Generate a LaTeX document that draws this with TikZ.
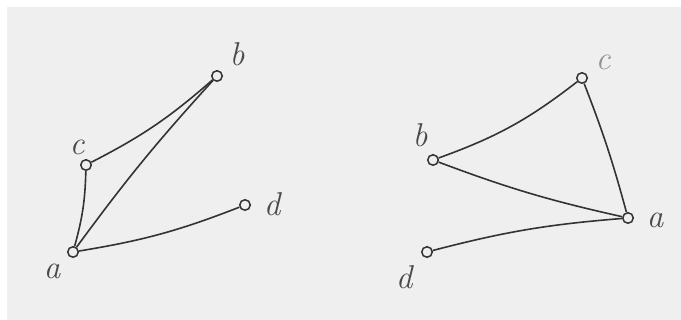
\documentclass[tikz,border=0pt]{standalone}
\usepackage{xcolor}
\definecolor{bg}{HTML}{EFEFEF}
\definecolor{ink}{HTML}{333333}
\definecolor{txt}{HTML}{4A4A4A}
\begin{document}
\begin{tikzpicture}[x=1pt,y=-1pt,
  vtx/.style={circle,draw=ink,line width=1.5pt,fill=bg,minimum size=10.5pt,inner sep=0pt},
  edge/.style={draw=ink,line width=1.6pt},
  lbl/.style={inner sep=0pt,text=txt,font=\fontsize{33}{33}\selectfont\itshape}]
\fill[white] (0,0) rectangle (681,320);
\fill[bg] (7,7) rectangle (681,320);
\useasboundingbox (0,0) rectangle (681,320);
% left graph
\node[vtx] (la) at (73,252) {};
\node[vtx] (lc) at (86,165) {};
\node[vtx] (lb) at (217,76) {};
\node[vtx] (ld) at (245,205) {};
\draw[edge] (la) to[bend right=7] (lc);
\draw[edge] (lc) to[bend right=7] (lb);
\draw[edge] (la) to[bend left=3] (lb);
\draw[edge] (la) to[bend right=6] (ld);
\node[lbl] (tla) at (52,271) {a};
\node[lbl] (tlb) at (237,54) {b};
\node[lbl] (tlc) at (77,147) {c};
\node[lbl] (tld) at (272,204) {d};
% right graph
\node[vtx] (ra) at (628,218) {};
\node[vtx] (rb) at (433,160) {};
\node[vtx] (rc) at (582,78) {};
\node[vtx] (rd) at (427,252) {};
\draw[edge] (rb) to[bend right=9] (rc);
\draw[edge] (rb) to[bend right=4] (ra);
\draw[edge] (rc) to[bend left=3] (ra);
\draw[edge] (rd) to[bend left=5] (ra);
\node[lbl] (tra) at (655,220) {a};
\node[lbl] (trb) at (420,135) {b};
\node[lbl,text=txt!60] (trc) at (603,62) {c};
\node[lbl] (trd) at (404,277) {d};
\end{tikzpicture}
\end{document}
